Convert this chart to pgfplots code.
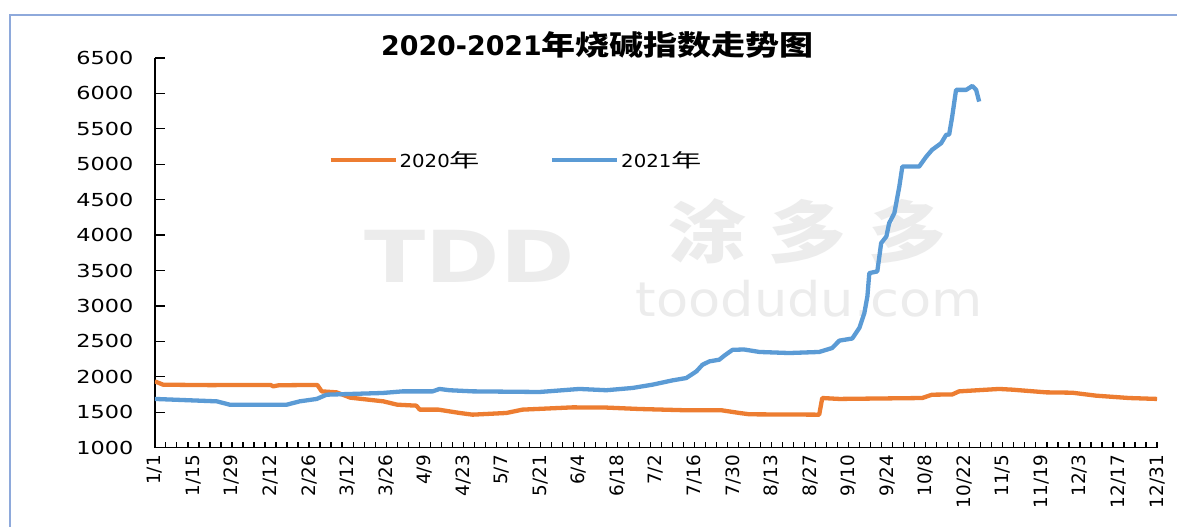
\documentclass[border=0pt]{standalone}
\usepackage{pgfplots}
\pgfplotsset{compat=1.18}
\usepackage{fontspec}
\setmainfont{DejaVu Sans}[FakeStretch=1.1]
\newfontfamily\xfont{DejaVu Sans}
\newfontfamily\yfont{DejaVu Sans}[FakeStretch=1.25]
\newfontfamily\titlefont{DejaVu Sans}
\newfontfamily\cjk{Noto Sans CJK SC}[FakeStretch=1.15]
\newfontfamily\cjktitle{Noto Sans CJK SC}[FakeStretch=1.22]
\newfontfamily\cjkwide{Noto Sans CJK SC}[FakeStretch=1.6]
\definecolor{orng}{HTML}{ED7D31}
\definecolor{blu}{HTML}{5B9BD5}
\definecolor{framec}{HTML}{8EA9DB}
\definecolor{wm}{HTML}{ECECEC}

\pgfplotstableread{
day val
0 1935
3 1888
20 1882
42 1885
43 1865
45 1880
59 1885
60.6 1794
66 1780
71 1705
83 1653
88 1606
95 1592
96.2 1536
103 1536
110.7 1489
115.4 1465
127.7 1489
133.5 1536
151.7 1568
164 1565
176 1545
194 1526
206 1526
212.3 1489
216 1470
241.3 1465
242.4 1700
248.6 1687
278.7 1700
282.3 1747
289.6 1750
292.1 1794
306.6 1828
311.4 1818
323.7 1780
333.2 1775
341.9 1733
353.8 1700
364 1687
}\orange

\pgfplotstableread{
day val
0 1687
22.5 1653
27.2 1606
47.9 1606
52.6 1653
58.8 1687
62.4 1747
82.7 1771
90 1794
100.9 1794
103.4 1828
107 1810
115.4 1794
139.7 1785
154.2 1828
164 1810
173.5 1842
180.7 1888
188 1949
193 1982
196.7 2076
198.9 2170
201.4 2217
205 2241
206.9 2300
209.8 2380
214 2385
219.6 2350
230.4 2335
241.3 2350
246 2406
248.6 2510
253.3 2540
255.9 2690
257.7 2900
258.8 3134
259.5 3463
262.4 3487
263.8 3887
265.7 3980
266.7 4168
268.6 4310
270.4 4686
271.5 4967
277.6 4967
280.2 5108
282.3 5203
285.6 5297
287.4 5414
288.5 5420
289.6 5672
291 6049
294.7 6049
296.9 6105
298.3 6049
299.4 5884
}\blue

\begin{document}
\begin{tikzpicture}[x=1bp,y=1bp]
\path[fill=white] (0,0) rectangle (1178,527);
\draw[framec, line width=2bp] (10,0) -- (10,512) -- (1178,512);
% watermark
\node[wm, font=\yfont\fontsize{72}{72}\selectfont\bfseries] at (470,270) {TDD};
\node[wm, font=\cjk\fontsize{68}{68}\selectfont\bfseries] at (808,295) {涂\hspace{22bp}多\hspace{22bp}多};
\node[wm, font=\fontsize{48}{48}\selectfont] at (810,228) {toodudu.com};
\begin{axis}[
  at={(155bp,79bp)}, anchor=south west,
  scale only axis, width=1003bp, height=390bp,
  xmin=0, xmax=364, ymin=1000, ymax=6500,
  axis x line*=bottom, axis y line*=left,
  axis line style={line width=1.5bp, black},
  every axis plot/.append style={line width=4.3bp, line join=round},
  xtick={0,14,...,364},
  xticklabels={1/1,1/15,1/29,2/12,2/26,3/12,3/26,4/9,4/23,5/7,5/21,6/4,6/18,7/2,7/16,7/30,8/13,8/27,9/10,9/24,10/8,10/22,11/5,11/19,12/3,12/17,12/31},
  minor xtick={0,4,...,364},
  major x tick style={draw=none},
  minor x tick style={line width=1.2bp, black},
  minor tick length=6bp,
  ytick={1000,1500,...,6500},
  major y tick style={line width=1.2bp, black},
  major tick length=10bp,
  tick align=inside,
  /pgf/number format/assume math mode=true,
  /pgf/number format/1000 sep={},
  yticklabel style={font=\yfont\fontsize{18}{20}\selectfont, xshift=-18bp},
  xticklabel style={font=\xfont\fontsize{18.5}{20}\selectfont, rotate=90, anchor=east, xshift=-4bp},
  legend style={at={(0.17,0.738)}, anchor=west, draw=none, fill=none,
    font=\fontsize{18}{20}\selectfont, legend columns=2,
    /tikz/every even column/.append style={column sep=68bp}},
  legend image code/.code={\draw[#1, line width=4.3bp] (0,0) -- (65bp,0);},
]
\addplot[orng, no marks] table[x=day, y=val] {\orange};
\addlegendentry{2020{\cjkwide\fontsize{19}{20}\selectfont 年}}
\addplot[blu, no marks] table[x=day, y=val] {\blue};
\addlegendentry{2021{\cjkwide\fontsize{19}{20}\selectfont 年}}
\end{axis}
\node[font=\titlefont\fontsize{27}{29}\selectfont\bfseries] at (598,482) {2020-2021{\cjktitle\fontsize{28}{29}\selectfont 年烧碱指数走势图}};
\end{tikzpicture}
\end{document}
